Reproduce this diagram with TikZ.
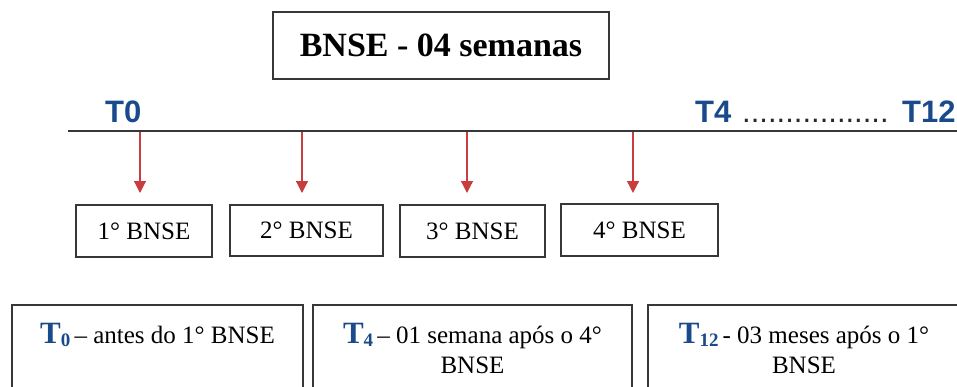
\documentclass[tikz,border=0pt]{standalone}
\usepackage{fontspec}
\setmainfont{Liberation Serif}
\newfontfamily\sansb{Liberation Sans}
\usetikzlibrary{arrows.meta}
\definecolor{tblue}{RGB}{24,74,140}
\definecolor{ared}{RGB}{200,62,62}
\definecolor{lgray}{RGB}{55,55,55}
\definecolor{dotgray}{RGB}{40,40,40}
\newcommand{\Tsub}[1]{{\color{tblue}{\fontsize{31}{31}\selectfont\bfseries T}\raisebox{-3pt}{\fontsize{19}{19}\selectfont\bfseries#1}}}
\begin{document}
\begin{tikzpicture}[x=1pt,y=-1pt,
  box/.style={draw=lgray, line width=1.3pt, inner sep=0pt},
  lbl/.style={inner sep=0pt, font=\fontsize{25}{28}\selectfont},
  tlab/.style={inner sep=0pt, anchor=base west, text=tblue, font=\sansb\bfseries\fontsize{31}{34}\selectfont},
  arr/.style={draw=ared, line width=1.2pt, -{Triangle[length=12pt,width=12pt]}},
  tline/.style={draw=lgray, line width=1.5pt},
]
\useasboundingbox (0,0) rectangle (957,386);
\clip (0,0) rectangle (957,386);

% title
\node[box, minimum width=336pt, minimum height=67pt, font=\bfseries\fontsize{34}{36}\selectfont] (title) at (441,45.5) {BNSE - 04 semanas};

% timeline
\coordinate (tl0) at (68,131);
\coordinate (tl1) at (960,131);
\draw[tline] (tl0) -- (tl1);

\node[tlab] (t0) at (105,122) {T0};
\node[tlab] (t4) at (695,122) {T4};
\node[tlab, text=dotgray, font=\sansb\fontsize{31}{34}\selectfont] (dots) at (742,122) {.................};
\node[tlab] (t12) at (902,122) {T12};

% small boxes
\node[box, lbl, minimum width=136pt, minimum height=52pt] (b1) at (144,231) {1° BNSE};
\node[box, lbl, minimum width=153pt, minimum height=51pt] (b2) at (306.5,230.5) {2° BNSE};
\node[box, lbl, minimum width=145pt, minimum height=52pt] (b3) at (472.5,231) {3° BNSE};
\node[box, lbl, minimum width=157pt, minimum height=52pt] (b4) at (639.5,230) {4° BNSE};

% arrows
\coordinate (a1t) at (140,132); \coordinate (a1b) at (140,193);
\coordinate (a2t) at (302,132); \coordinate (a2b) at (302,193);
\coordinate (a3t) at (467,132); \coordinate (a3b) at (467,193);
\coordinate (a4t) at (633,132); \coordinate (a4b) at (633,193);
\draw[arr] (a1t) -- (a1b);
\draw[arr] (a2t) -- (a2b);
\draw[arr] (a3t) -- (a3b);
\draw[arr] (a4t) -- (a4b);

% bottom boxes
\node[box, minimum width=291pt, minimum height=90pt] (c1) at (157.5,350) {};
\node[box, minimum width=319pt, minimum height=90pt] (c2) at (472.5,350) {};
\node[box, minimum width=318pt, minimum height=90pt] (c3) at (807,350) {};

\node[lbl, anchor=base] (c1l1) at (157.5,343) {\Tsub{0}\,– antes do 1° BNSE};
\node[lbl, anchor=base] (c2l1) at (472.5,343) {\Tsub{4}\,– 01 semana após o 4°};
\node[lbl, anchor=base] (c2l2) at (472.5,373) {BNSE};
\node[lbl, anchor=base] (c3l1) at (804,343) {\Tsub{12}\,- 03 meses após o 1°};
\node[lbl, anchor=base] (c3l2) at (804,373) {BNSE};
\end{tikzpicture}
\end{document}
